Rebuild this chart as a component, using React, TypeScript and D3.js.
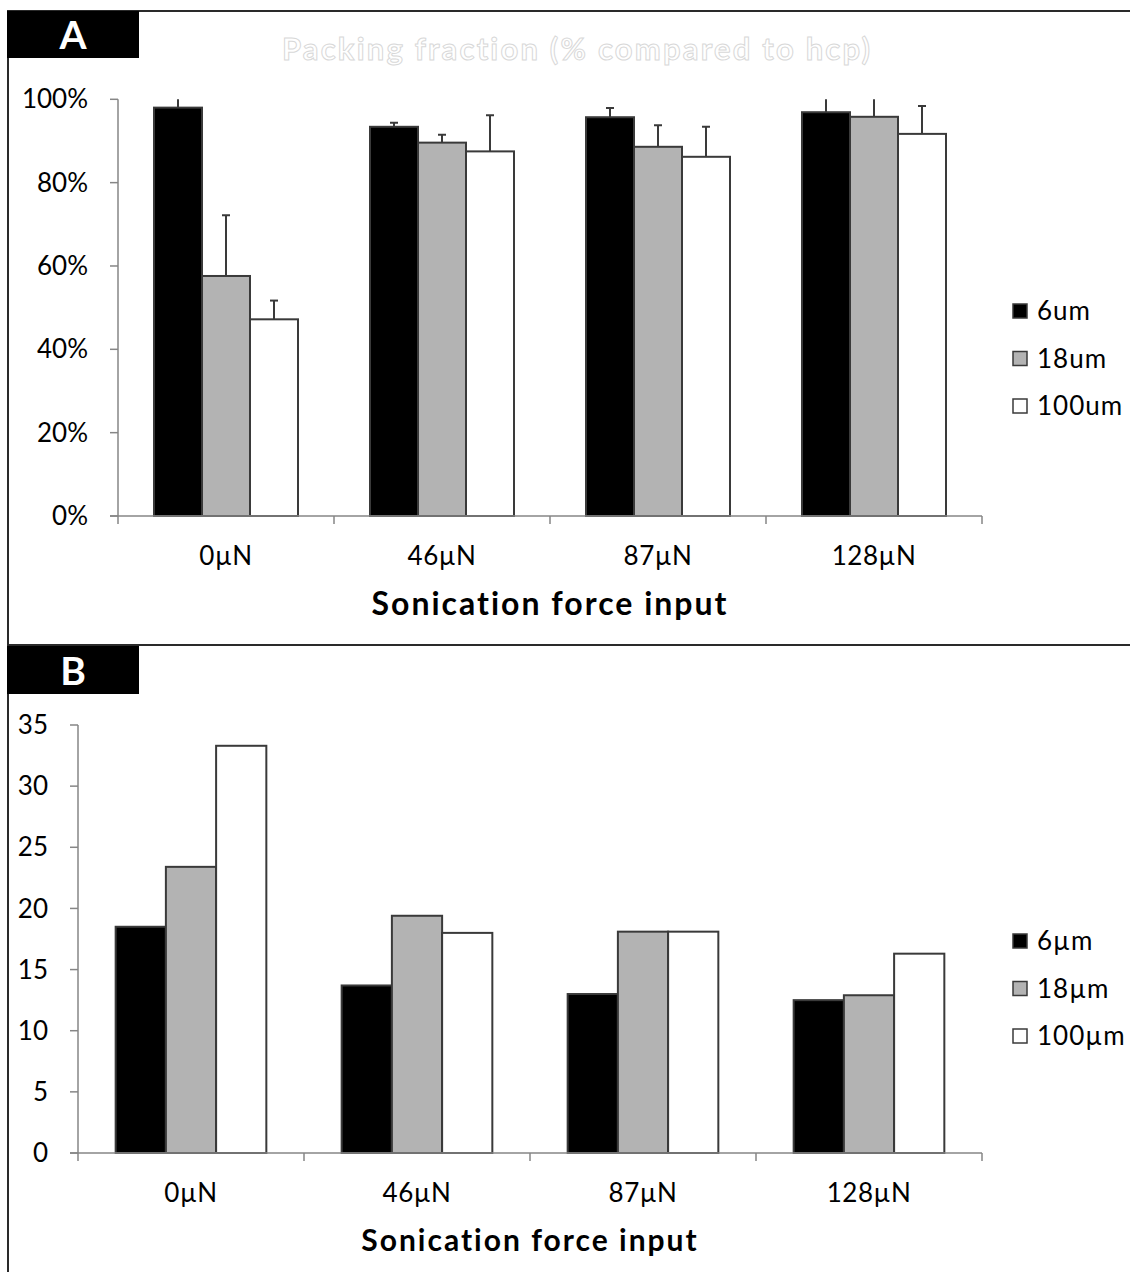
import React from "react";
import * as d3 from "d3";

const categories = ["0µN", "46µN", "87µN", "128µN"];
const seriesA = ["6um", "18um", "100um"];
const seriesB = ["6µm", "18µm", "100µm"];

// panel A: packing fraction (%), plus-only error bars
const packing6 = [98.0, 93.4, 95.7, 96.9];
const packing18 = [57.6, 89.6, 88.6, 95.8];
const packing100 = [47.2, 87.5, 86.2, 91.7];
const packErr6 = [2.5, 1.0, 2.2, 3.5];
const packErr18 = [14.6, 1.9, 5.2, 4.5];
const packErr100 = [4.5, 8.7, 7.2, 6.7];

// panel B
const valuesB6 = [18.5, 13.7, 13.0, 12.5];
const valuesB18 = [23.4, 19.4, 18.1, 12.9];
const valuesB100 = [33.3, 18.0, 18.1, 16.3];

const yTicksA = [0, 20, 40, 60, 80, 100];
const yTicksB = [0, 5, 10, 15, 20, 25, 30, 35];

const fills = ["#000000", "#b3b3b3", "#ffffff"];
const axisColor = "#868686";
const font = "Lato, 'Open Sans', sans-serif";

type PanelProps = {
  id: string;
  series: string[];
  values: number[][];
  errors?: number[][];
  yMax: number;
  yTicks: number[];
  fmt: (d: number) => string;
  left: number;
  right: number;
  top: number;
  bottom: number;
  titleY: number;
  titleSize: number;
  labelRight: number;
  legendTop: number;
};

const Panel = (p: PanelProps) => {
  const x0 = d3.scaleBand().domain(categories).range([p.left, p.right]).padding(0);
  const step = x0.step();
  const bw = step / 4.5;
  const x1 = d3
    .scaleBand()
    .domain(p.series)
    .range([bw * 0.75, step - bw * 0.75])
    .padding(0);
  const y = d3.scaleLinear().domain([0, p.yMax]).range([p.bottom, p.top]);
  const bounds = [p.left, ...categories.map((c) => (x0(c) as number) + step)];

  return (
    <g>
      <defs>
        <clipPath id={"clip" + p.id}>
          <rect x={p.left} y={p.top} width={p.right - p.left} height={p.bottom - p.top} />
        </clipPath>
      </defs>
      {/* y axis */}
      <line x1={p.left} x2={p.left} y1={p.top} y2={p.bottom} stroke={axisColor} strokeWidth={1.5} />
      {p.yTicks.map((t) => (
        <g key={t}>
          <line x1={p.left - 8} x2={p.left} y1={y(t)} y2={y(t)} stroke={axisColor} strokeWidth={1.5} />
          <text
            x={p.labelRight}
            y={y(t)}
            dy="0.35em"
            textAnchor="end"
            fontFamily={font}
            fontSize={26}
            fill="#000"
          >
            {p.fmt(t)}
          </text>
        </g>
      ))}
      {/* bars */}
      {categories.map((c, i) => (
        <g key={c} transform={`translate(${x0(c)},0)`}>
          {p.series.map((s, j) => (
            <rect
              key={s}
              x={x1(s)}
              y={y(p.values[j][i])}
              width={x1.bandwidth()}
              height={p.bottom - y(p.values[j][i])}
              fill={fills[j]}
              stroke="#3a3a3a"
              strokeWidth={2}
            />
          ))}
        </g>
      ))}
      {/* error bars */}
      {p.errors && (
        <g clipPath={`url(#clip${p.id})`}>
          {categories.map((c, i) =>
            p.series.map((s, j) => {
              const cx = (x0(c) as number) + (x1(s) as number) + x1.bandwidth() / 2;
              const top = y(p.values[j][i] + p.errors![j][i]);
              return (
                <g key={c + s} stroke="#3a3a3a" strokeWidth={2}>
                  <line x1={cx} x2={cx} y1={y(p.values[j][i])} y2={top} />
                  <line x1={cx - 4} x2={cx + 4} y1={top} y2={top} />
                </g>
              );
            })
          )}
        </g>
      )}
      {/* x axis */}
      <line x1={p.left - 8} x2={p.right} y1={p.bottom} y2={p.bottom} stroke={axisColor} strokeWidth={1.5} />
      {bounds.map((b, i) => (
        <line key={i} x1={b} x2={b} y1={p.bottom} y2={p.bottom + 8} stroke={axisColor} strokeWidth={1.5} />
      ))}
      {categories.map((c) => (
        <text
          key={c}
          x={(x0(c) as number) + step / 2}
          y={p.bottom + 49}
          textAnchor="middle"
          fontFamily={font}
          fontSize={26}
          letterSpacing={0.5}
        >
          {c}
        </text>
      ))}
      <text
        x={(p.left + p.right) / 2}
        y={p.titleY}
        textAnchor="middle"
        fontFamily={font}
        fontWeight="bold"
        fontSize={p.titleSize}
        letterSpacing={2}
      >
        Sonication force input
      </text>
      {/* legend */}
      {p.series.map((s, j) => (
        <g key={s} transform={`translate(1013,${p.legendTop + j * 47.5})`}>
          <rect x={0} y={0} width={14} height={14} fill={fills[j]} stroke="#3a3a3a" strokeWidth={1.5} />
          <text x={24} y={7} dy="0.35em" fontFamily={font} fontSize={26} letterSpacing={1}>
            {s}
          </text>
        </g>
      ))}
    </g>
  );
};

export default function App() {
  return (
    <svg
      width={1130}
      height={1272}
      style={{ position: "absolute", left: 0, top: 0, background: "#fff" }}
    >
      <rect x={0} y={0} width={1130} height={1272} fill="#fff" />
      {/* frame */}
      <line x1={7} x2={1130} y1={11} y2={11} stroke="#2a2a2a" strokeWidth={2} />
      <line x1={8} x2={8} y1={11} y2={1272} stroke="#2a2a2a" strokeWidth={2} />
      <line x1={7} x2={1130} y1={645} y2={645} stroke="#2a2a2a" strokeWidth={2} />
      <rect x={7} y={11} width={132} height={47} fill="#000" />
      <text x={73} y={49} textAnchor="middle" fill="#fff" fontFamily={font} fontWeight="bold" fontSize={39}>
        A
      </text>
      <rect x={7} y={646} width={132} height={48} fill="#000" />
      <text x={73} y={685} textAnchor="middle" fill="#fff" fontFamily={font} fontWeight="bold" fontSize={39}>
        B
      </text>
      <text
        x={577}
        y={60}
        textAnchor="middle"
        fill="#fff"
        stroke="#d8d8d8"
        strokeWidth={1}
        fontFamily={font}
        fontWeight="bold"
        fontSize={31}
        letterSpacing={2.2}
      >
        Packing fraction (% compared to hcp)
      </text>
      <Panel
        id="A"
        series={seriesA}
        values={[packing6, packing18, packing100]}
        errors={[packErr6, packErr18, packErr100]}
        yMax={100}
        yTicks={yTicksA}
        fmt={(d) => d + "%"}
        left={118}
        right={982}
        top={99.3}
        bottom={516}
        titleY={615}
        titleSize={32}
        labelRight={88}
        legendTop={304}
      />
      <Panel
        id="B"
        series={seriesB}
        values={[valuesB6, valuesB18, valuesB100]}
        yMax={35}
        yTicks={yTicksB}
        fmt={(d) => String(d)}
        left={78}
        right={982}
        top={725}
        bottom={1153}
        titleY={1251}
        titleSize={30}
        labelRight={48}
        legendTop={934}
      />
    </svg>
  );
}
